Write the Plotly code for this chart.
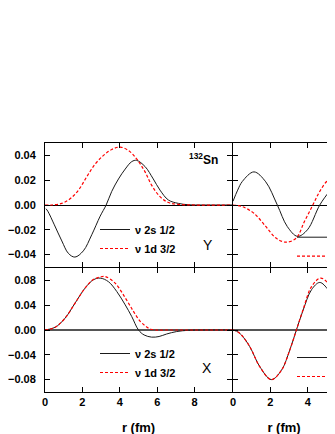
"""
132Sn neutron 2s1/2 / 1d3/2 radial components (Y and X) in Plotly
"""
import plotly.graph_objects as go
from plotly.subplots import make_subplots

FONT = 'Liberation Sans, Arial, sans-serif'
BLACK = '#1a1a1a'
RED = '#ff0000'

# ---- data ----
# Y component, left panel
r_yl_2s = [0.05, 0.15, 0.5, 0.9, 1.25, 1.6, 2.05, 2.5, 2.95, 3.27, 3.57, 3.93, 4.29,
           4.64, 4.9, 5.35, 5.79, 6.15, 6.6, 7.13, 7.67, 8.5, 10]
y_yl_2s = [-0.003, -0.005, -0.016, -0.029, -0.039, -0.042, -0.037, -0.024, -0.009,
           0.0, 0.011, 0.021, 0.029, 0.035, 0.036, 0.031, 0.021, 0.012, 0.004,
           0.0013, 0.0002, 0.0, 0.0]
r_yl_1d = [0, 0.36, 0.89, 1.34, 1.79, 2.23, 2.68, 3.13, 3.57, 4.02, 4.46, 4.91,
           5.35, 5.7, 6.15, 6.6, 7.13, 8, 10]
y_yl_1d = [0, 0.0, 0.0013, 0.005, 0.012, 0.0227, 0.033, 0.040, 0.0448, 0.0467,
           0.044, 0.037, 0.0267, 0.016, 0.0067, 0.002, 0.0005, 0.0, 0.0]

# Y component, right panel
r_yr_2s = [0, 0.25, 0.5, 1.12, 1.75, 2.37, 2.9, 3.45, 3.98, 4.64, 5.14, 5.5, 6]
y_yr_2s = [0.003, 0.012, 0.019, 0.0267, 0.0187, 0.0, -0.0173, -0.0253, -0.02,
           0.0, 0.0107, 0.017, 0.021]
r_yr_1d = [0, 0.5, 1.12, 1.75, 2.3, 2.84, 3.38, 3.82, 4.27, 4.63, 5.07, 5.5, 6]
y_yr_1d = [0, -0.0013, -0.0067, -0.0173, -0.0267, -0.030, -0.0267, -0.0133, 0.0,
           0.0107, 0.02, 0.024, 0.025]

# X component, left panel
r_xl_2s = [0, 0.54, 1.07, 1.6, 2.14, 2.59, 2.95, 3.39, 3.84, 4.29, 4.64, 5.0, 5.3,
           5.7, 6.1, 6.5, 7.04, 7.67, 8.5, 10]
y_xl_2s = [0, 0.0043, 0.019, 0.043, 0.0675, 0.081, 0.0837, 0.078, 0.062, 0.0405,
           0.0216, 0.0, -0.008, -0.0115, -0.0105, -0.0065, -0.0025, -0.0005, 0.0, 0.0]
r_xl_1d = [0, 0.54, 1.07, 1.6, 2.14, 2.59, 2.95, 3.2, 3.75, 4.29, 4.73, 5.09, 5.35,
           5.6, 5.9, 6.5, 10]
y_xl_1d = [0, 0.0043, 0.019, 0.043, 0.0675, 0.0815, 0.0855, 0.0864, 0.0756, 0.052,
           0.030, 0.014, 0.007, 0.002, 0.0, 0.0, 0.0]

# X component, right panel
r_xr_2s = [0, 0.2, 0.45, 0.9, 1.43, 2.05, 2.59, 3.04, 3.39, 3.75, 4.2, 4.64, 5.09,
           5.54, 6]
y_xr_2s = [0, -0.002, -0.008, -0.027, -0.059, -0.080, -0.065, -0.032, 0.0, 0.032,
           0.065, 0.0767, 0.065, 0.043, 0.02]
r_xr_1d = [0, 0.2, 0.45, 0.9, 1.43, 2.05, 2.59, 3.04, 3.39, 3.75, 4.2, 4.68, 5.09,
           5.54, 6]
y_xr_1d = [0, -0.002, -0.008, -0.027, -0.059, -0.080, -0.065, -0.032, 0.0, 0.033,
           0.070, 0.0837, 0.0756, 0.0567, 0.035]

names = ['\u03bd 2s 1/2', '\u03bd 1d 3/2']
y_ticks_top = [-0.04, -0.02, 0.0, 0.02, 0.04]
y_ticks_bot = [-0.08, -0.04, 0.0, 0.04, 0.08]
x_ticks_left = [0, 2, 4, 6, 8]
x_ticks_right = [0, 2, 4]

fig = make_subplots(rows=2, cols=2, column_widths=[187, 102],
                    horizontal_spacing=1 / 290, vertical_spacing=1 / 249)

panels = [
    (1, 1, r_yl_2s, y_yl_2s, r_yl_1d, y_yl_1d, 'legend'),
    (1, 2, r_yr_2s, y_yr_2s, r_yr_1d, y_yr_1d, 'legend3'),
    (2, 1, r_xl_2s, y_xl_2s, r_xl_1d, y_xl_1d, 'legend2'),
    (2, 2, r_xr_2s, y_xr_2s, r_xr_1d, y_xr_1d, 'legend4'),
]
for row, col, r1, v1, r2, v2, leg in panels:
    fig.add_trace(go.Scatter(x=r1, y=v1, mode='lines', name=names[0], legend=leg,
                             line=dict(color=BLACK, width=1, shape='spline')),
                  row=row, col=col)
    fig.add_trace(go.Scatter(x=r2, y=v2, mode='lines', name=names[1], legend=leg,
                             line=dict(color=RED, width=1.2, dash='3px,2px',
                                       shape='spline')),
                  row=row, col=col)

tickfont = dict(family=FONT, size=11, color='black', weight='bold')
common = dict(showgrid=False, showline=True, linecolor='black', linewidth=1,
              ticks='inside', ticklen=5, tickcolor='black', tickwidth=1,
              tickfont=tickfont, automargin=False)

# x axes
for row in (1, 2):
    for col in (1, 2):
        fig.update_xaxes(common, mirror='ticks', zeroline=False,
                         range=[0, 10] if col == 1 else [0, 102 / 18.7],
                         tickvals=x_ticks_left if col == 1 else x_ticks_right,
                         showticklabels=(row == 2), row=row, col=col)
        if row == 2:
            fig.update_xaxes(title=dict(text='r (fm)', standoff=15,
                                        font=dict(family=FONT, size=13, color='black',
                                                  weight='bold')),
                             row=row, col=col)

# y axes
for row in (1, 2):
    rng = [-0.05, 0.05] if row == 1 else [-0.1, 0.1]
    tv = y_ticks_top if row == 1 else y_ticks_bot
    zc = 'black' if row == 1 else '#555555'
    zw = 1 if row == 1 else 2
    fig.update_yaxes(common, mirror='ticks', range=rng, tickvals=tv,
                     tickformat='.2f', zeroline=True, zerolinecolor=zc,
                     zerolinewidth=zw, ticklabelstandoff=6, row=row, col=1)
    fig.update_yaxes(common, showline=False, mirror=False, range=rng, tickvals=tv,
                     showticklabels=False, zeroline=True, zerolinecolor=zc,
                     zerolinewidth=zw, row=row, col=2)

# labels inside the panels
fig.add_annotation(x=8.5, y=0.037, xref='x', yref='y', showarrow=False,
                   text='<sup>132</sup>Sn',
                   font=dict(family=FONT, size=12, color='black', weight='bold'))
fig.add_annotation(x=8.69, y=-0.0323, xref='x', yref='y', showarrow=False,
                   text='Y', font=dict(family=FONT, size=14, color='black'))
fig.add_annotation(x=8.66, y=-0.0613, xref='x3', yref='y3', showarrow=False,
                   text='X', font=dict(family=FONT, size=14, color='black'))

legfont = dict(family=FONT, size=11, color='black', weight='bold')
leg = dict(bgcolor='rgba(0,0,0,0)', borderwidth=0, font=legfont, itemwidth=30,
           xanchor='left', yanchor='top', tracegroupgap=0)

# the page adds an 8 px offset, so the margins are reduced by that amount
fig.update_layout(
    width=335, height=434,
    margin=dict(l=37, r=8, t=135, b=50, autoexpand=False),
    paper_bgcolor='white', plot_bgcolor='white',
    showlegend=True,
    legend=dict(leg, x=(95 - 45) / 290, y=(392 - 215) / 249),
    legend2=dict(leg, x=(95 - 45) / 290, y=(392 - 339) / 249),
    legend3=dict(leg, x=(292 - 45) / 290, y=(392 - 222.7) / 249),
    legend4=dict(leg, x=(292 - 45) / 290, y=(392 - 343) / 249),
)

fig.write_html("out.html")
